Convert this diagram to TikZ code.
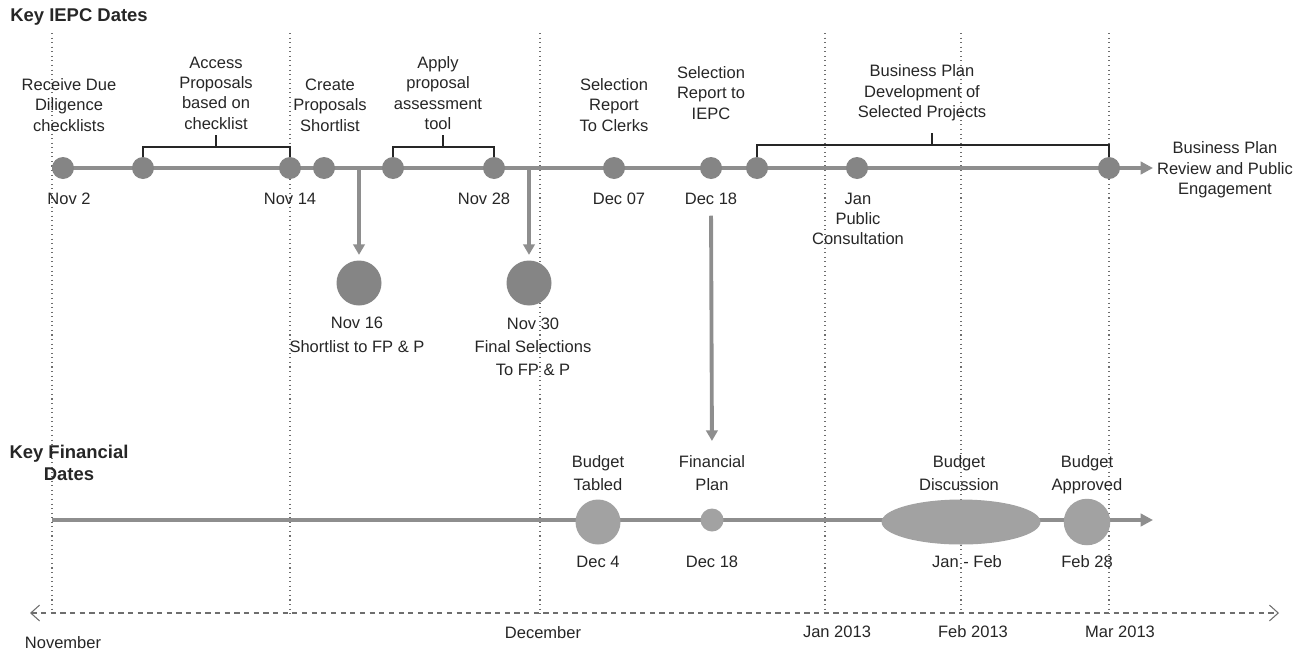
\documentclass[tikz,border=0pt]{standalone}
\usepackage{fontspec}
\setmainfont{Liberation Sans}
\usepackage{xcolor}
\usepackage{tikz}
\usetikzlibrary{positioning,arrows.meta,shapes.geometric}
\definecolor{TLInk}{HTML}{262626}
\definecolor{TLDot}{HTML}{858585}
\definecolor{TLSoft}{HTML}{A2A2A2}
\definecolor{TLLine}{HTML}{8E8E8E}
\definecolor{TLGuide}{HTML}{6E6E6E}

\begin{document}
\begin{tikzpicture}[x=0.02cm,y=-0.02cm,
    txt/.style={text=TLInk,font=\fontsize{9.4}{11.6}\selectfont,align=center,inner sep=0pt},
    hdr/.style={text=TLInk,font=\bfseries\fontsize{10.5}{12.5}\selectfont,align=center,inner sep=0pt},
    tdot/.style={circle,fill=TLDot,inner sep=0pt,minimum size=0.44cm},
    bdot/.style={circle,fill=TLSoft,inner sep=0pt,minimum size=0.9cm},
    guide/.style={TLGuide,dotted,line width=0.6pt},
    track/.style={TLLine,line width=2.6pt,-{Triangle[length=7pt,width=7pt]}},
    drop/.style={TLLine,line width=2.2pt,-{Triangle[length=6pt,width=6.5pt]}},
    brace/.style={TLInk,line width=0.8pt}]
    \useasboundingbox (0,0) rectangle (1310,656);
    \foreach \x in {52,290,540,825,961,1109} {
      \draw[guide] (\x,33) -- (\x,614);
    }
    \node[hdr,anchor=west] (keyiepc) at (10,17) {Key IEPC Dates};
    \node[hdr] (keyfin) at (69,463) {Key Financial\\Dates};

    \coordinate (tstart) at (52,168);
    \coordinate (tend) at (1153,168);
    \coordinate (j16) at (359,168);
    \coordinate (j30) at (529,168);
    \node[tdot,minimum size=0.9cm] (nov16) at (359,283) {};
    \node[tdot,minimum size=0.9cm] (nov30) at (529,283) {};
    \draw[drop,shorten >=3pt] (j16) -- (nov16.north);
    \draw[drop,shorten >=3pt] (j30) -- (nov30.north);
    \draw[track] (tstart) -- (tend);
    \foreach \x/\n in {63/nov2,143/acc,290/nov14,324/cre,393/app,494/nov28,614/dec07,711/dec18,757/biz,857/jan,1109/rev} {
      \node[tdot] (\n) at (\x,168) {};
    }
    \foreach \x/\n/\t in {69/lnov2/Nov 2,290/lnov14/Nov 14,484/lnov28/Nov 28,619/ldec07/Dec 07,711/ldec18/Dec 18} {
      \node[txt] (\n) at (\x,199) {\t};
    }
    \node[txt] (ljan) at (858,219) {Jan\\Public\\Consultation};
    \node[txt] (lrecv) at (69,105) {Receive Due\\Diligence\\checklists};
    \node[txt] (lacc) at (216,93) {Access\\Proposals\\based on\\checklist};
    \node[txt] (lcre) at (330,105) {Create\\Proposals\\Shortlist};
    \node[txt] (lapp) at (438,93) {Apply\\proposal\\assessment\\tool};
    \node[txt] (lclerk) at (614,105) {Selection\\Report\\To Clerks};
    \node[txt] (liepc) at (711,93) {Selection\\Report to\\IEPC};
    \node[txt] (lbiz) at (922,93) {Business Plan\\Development of\\Selected Projects};
    \node[txt] (lrev) at (1225,170) {Business Plan\\Review and Public\\Engagement};

    \draw[brace] (acc.north) |- (216,147) -| (nov14.north);
    \draw[brace] (216,147) -- (216,135);
    \draw[brace] (app.north) |- (443,147) -| (nov28.north);
    \draw[brace] (443,147) -- (443,135);
    \draw[brace] (biz.north) |- (932,145) -| (rev.north);
    \draw[brace] (932,145) -- (932,133);

    \node[txt,font=\fontsize{9.4}{13.6}\selectfont] (lnov16) at (357,335) {Nov 16\\Shortlist to FP \& P};
    \node[txt,font=\fontsize{9.4}{13.2}\selectfont] (lnov30) at (533,347) {Nov 30\\Final Selections\\To FP \& P};

    \coordinate (bstart) at (52,520);
    \coordinate (bend) at (1153,520);
    \draw[track] (bstart) -- (bend);
    \node[bdot,minimum width=0.88cm] (tabled) at (598,522) {};
    \node[bdot,minimum size=0.46cm] (fin) at (712,520) {};
    \node[bdot,ellipse,minimum width=3.18cm,minimum height=0.9cm] (disc) at (961,522) {};
    \node[bdot,minimum size=0.93cm] (appr) at (1087,522) {};
    \foreach \x/\n/\t in {598/ltabled/Budget\\Tabled,712/lfin/Financial\\Plan,959/ldisc/Budget\\Discussion,1087/lappr/Budget\\Approved} {
      \node[txt,font=\fontsize{9.4}{13.2}\selectfont,anchor=north] (\n) at (\x,455) {\t};
    }
    \foreach \x/\n/\t in {598/ddec4/Dec 4,712/ddec18/Dec 18,967/djan/Jan - Feb,1087/dfeb/Feb 28} {
      \node[txt] (\n) at (\x,562) {\t};
    }
    \draw[drop,shorten <=6pt,shorten >=8pt] (ldec18.south) -- (lfin.north);

    \coordinate (axl) at (30,613);
    \coordinate (axr) at (1279,613);
    \draw[TLGuide,line width=0.6pt,dash pattern=on 3pt off 2.5pt,{Straight Barb[length=5pt,width=9pt]}-{Straight Barb[length=5pt,width=9pt]}] (axl) -- (axr);
    \foreach \x/\y/\n/\t in {63/643/mnov/November,543/633/mdec/December,837/632/mjan/Jan 2013,973/632/mfeb/Feb 2013,1120/632/mmar/Mar 2013} {
      \node[txt] (\n) at (\x,\y) {\t};
    }
  \end{tikzpicture}
\end{document}
